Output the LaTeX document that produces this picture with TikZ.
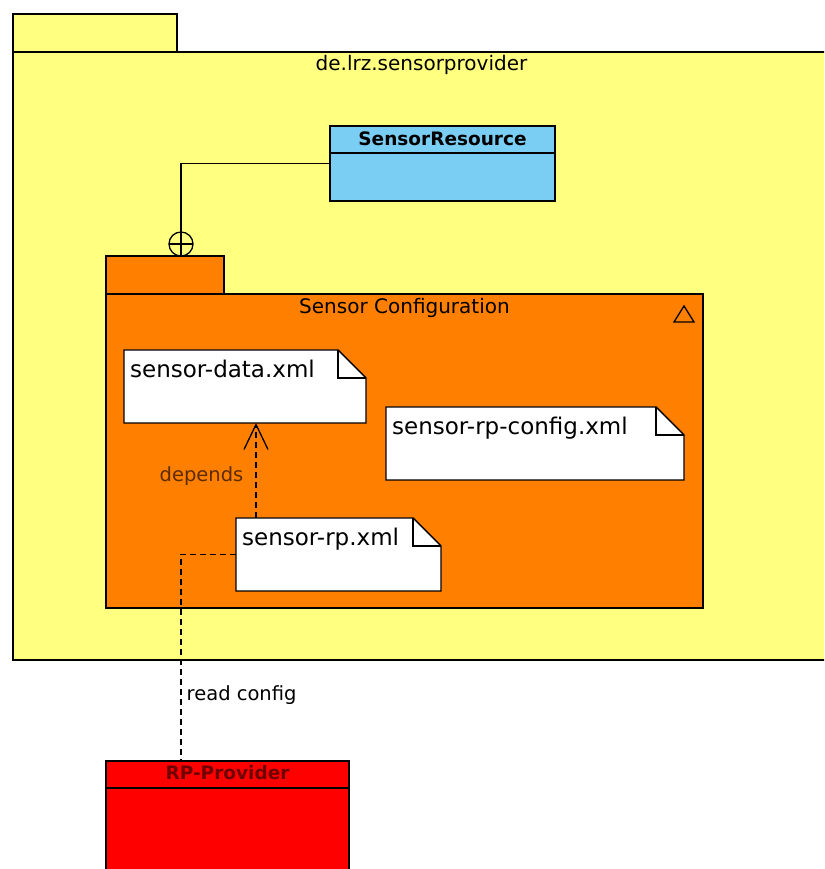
\documentclass[tikz,border=0pt]{standalone}
\usepackage{fontspec}
\setmainfont{DejaVu Sans}
\usetikzlibrary{arrows.meta}
\definecolor{pkgyellow}{HTML}{FFFF80}
\definecolor{pkgorange}{HTML}{FF8000}
\definecolor{resblue}{HTML}{7ACEF4}
\definecolor{provred}{HTML}{FF0000}
\definecolor{provtext}{HTML}{700000}
\definecolor{deptext}{HTML}{5C2C00}

\begin{document}
\begin{tikzpicture}[x=1pt,y=1pt,
  box/.style={draw, line width=1.4pt, anchor=north west, inner sep=0pt, outer sep=0pt},
  xmlnote/.style={anchor=north west, inner sep=0pt, outer sep=0pt, minimum height=73},
  notetext/.style={anchor=base west, inner sep=0pt, font=\fontsize{23}{27}\selectfont},
  pkgtitle/.style={anchor=base, inner sep=0pt, font=\fontsize{20}{24}\selectfont},
  classname/.style={anchor=base, inner sep=0pt, font=\fontsize{18.5}{22}\selectfont\bfseries},
  dep/.style={line width=1.4pt, dash pattern=on 6pt off 4pt},
  cfglabel/.style={inner sep=0pt, font=\fontsize{19.5}{23}\selectfont},
]
\useasboundingbox (0,0) rectangle (824,869);
\clip (0,0) rectangle (824,869);

\node[box, fill=pkgyellow, minimum width=164, minimum height=38] (maintab) at (13,855) {};
\node[box, fill=pkgyellow, minimum width=817, minimum height=608] (main) at (13,817) {};
\node[pkgtitle] at ([yshift=-19]main.north) {de.lrz.sensorprovider};

\node[box, fill=resblue, minimum width=225, minimum height=75] (res) at (330,743) {};
\draw[line width=1.4pt] ([yshift=-27]res.north west) -- ([yshift=-27]res.north east);
\node[classname] at ([yshift=-20]res.north) {SensorResource};

\node[box, fill=pkgorange, minimum width=118, minimum height=38] (cfgtab) at (106,613) {};
\node[box, fill=pkgorange, minimum width=597, minimum height=314] (cfg) at (106,575) {};
\node[pkgtitle] at ([yshift=-20]cfg.north) {Sensor Configuration};
\draw[line width=1.3pt] ([xshift=-29,yshift=-28]cfg.north east) -- ++(20,0) -- ++(-10,16) -- cycle;

\node[circle, draw, line width=1.3pt, minimum size=24, inner sep=0pt, outer sep=0pt, anchor=south] (nest) at ([xshift=16]cfgtab.north) {};
\draw[line width=1.3pt] (nest.north) -- (nest.south) (nest.west) -- (nest.east);
\draw[line width=1.3pt] (res.west) -| (nest.north);

\node[xmlnote, minimum width=242] (data) at (124,519) {};
\node[xmlnote, minimum width=298] (rpconf) at (386,462) {};
\node[xmlnote, minimum width=205] (rp) at (236,351) {};
\foreach \n in {data,rpconf,rp}{
  \filldraw[fill=white, line width=1.4pt] (\n.north west) -- ([xshift=-28]\n.north east)
    -- ([yshift=-28]\n.north east) -- (\n.south east) -- (\n.south west) -- cycle;
  \draw[line width=1.3pt] ([xshift=-28]\n.north east) |- ([yshift=-28]\n.north east);
}
\node[notetext] at ([shift={(6,-28)}]data.north west) {sensor-data.xml};
\node[notetext] at ([shift={(6,-28)}]rpconf.north west) {sensor-rp-config.xml};
\node[notetext] at ([shift={(6,-28)}]rp.north west) {sensor-rp.xml};

\draw[dep, -{Straight Barb[length=25pt, width=24pt, line width=1.3pt]}]
  ([xshift=20]rp.north west) -- ([xshift=20]rp.north west |- data.south)
  node[cfglabel, text=deptext, pos=0.44, anchor=east, xshift=-12] {depends};

\node[box, fill=provred, minimum width=243, minimum height=115] (prov) at (106,108) {};
\draw[line width=1.4pt] ([yshift=-27]prov.north west) -- ([yshift=-27]prov.north east);
\node[classname, text=provtext] at ([yshift=-19]prov.north) {RP-Provider};

\draw[dep] (rp.west) -| ([xshift=75]prov.north west)
  node[cfglabel, pos=0.84, anchor=west, xshift=5] {read config};
\end{tikzpicture}
\end{document}
